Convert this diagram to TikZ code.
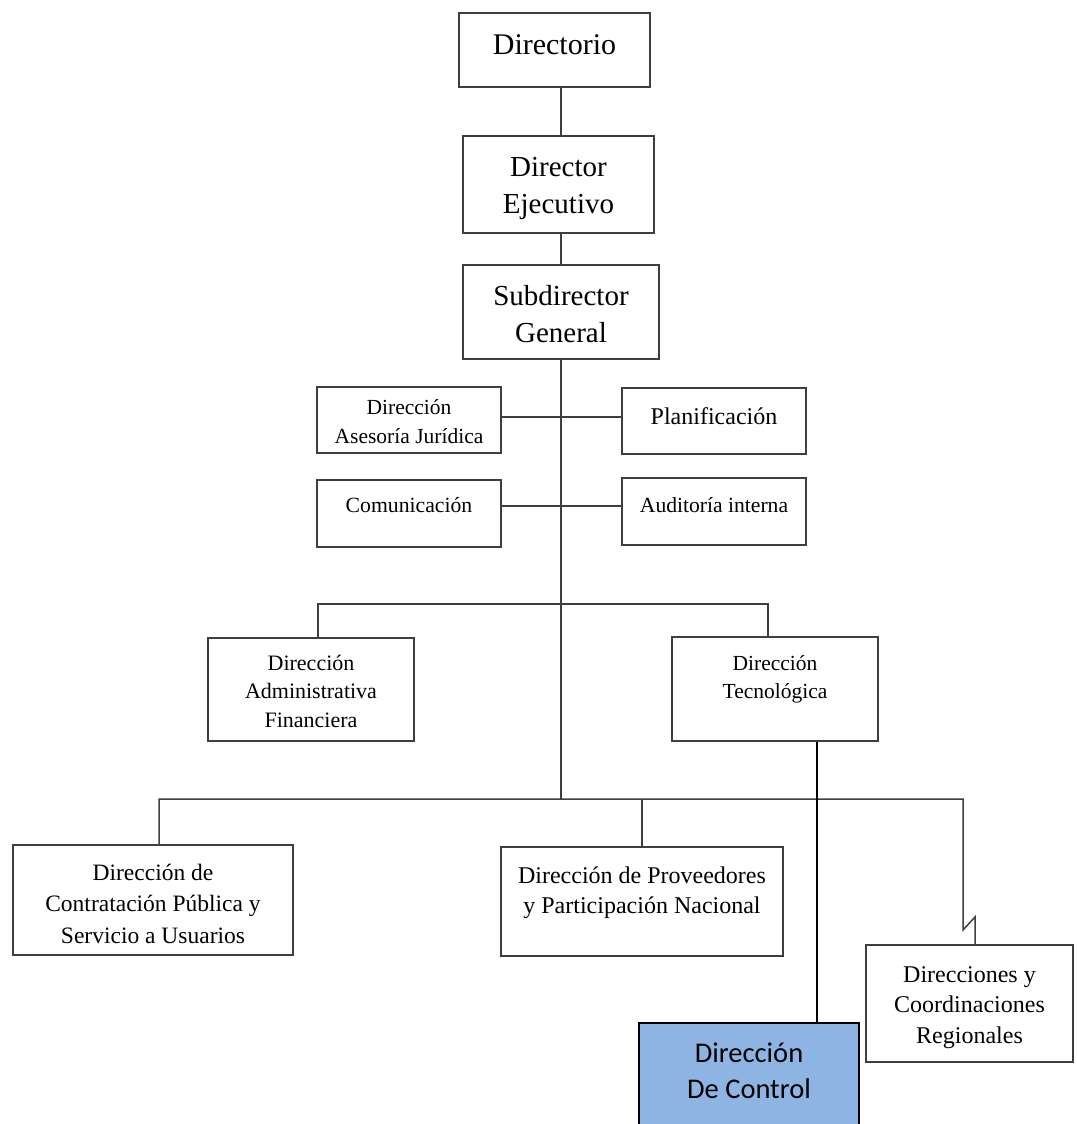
\documentclass[tikz,border=0pt]{standalone}
\usepackage{fontspec}
\setmainfont{Liberation Serif}
\newfontfamily\calibrifont{Carlito}
\usetikzlibrary{positioning}
\definecolor{controlblue}{RGB}{142,180,227}
\definecolor{linegray}{RGB}{62,62,62}

\begin{document}
\begin{tikzpicture}[x=1pt, y=-1pt,
        unit/.style={draw=linegray, line width=1.5pt, fill=white, align=center, inner sep=0pt},
        link/.style={draw=linegray, line width=1.5pt},
        ctlline/.style={draw=black, line width=2.6pt}]
        \useasboundingbox (0,0) rectangle (1076,1124);
        \clip (0,0) rectangle (1076,1124);

        % Top levels
        \node [unit, font=\fontsize{30}{36}\selectfont, minimum width=191pt, minimum height=74pt, text height=10pt, text depth=0pt] (dir) at (554.5,50) {Directorio};
        \node [unit, font=\fontsize{29}{37}\selectfont, minimum width=191pt, minimum height=97pt, text height=57pt, text depth=0pt] (exec) at (558.5,184.5) {Director\\Ejecutivo};
        \node [unit, font=\fontsize{29}{37}\selectfont, minimum width=196pt, minimum height=94pt, text height=60pt, text depth=0pt] (sub) at (561,312) {Subdirector\\General};

        % Staff units
        \node [unit, font=\fontsize{21.5}{29}\selectfont, minimum width=184pt, minimum height=66pt, text height=46pt, text depth=0pt] (jur) at (409,420) {Dirección\\Asesoría Jurídica};
        \node [unit, font=\fontsize{24}{30}\selectfont, minimum width=184pt, minimum height=66pt, text height=6pt, text depth=0pt] (plan) at (714,421) {Planificación};
        \node [unit, font=\fontsize{21.7}{28}\selectfont, minimum width=184pt, minimum height=67pt, text height=0pt, text depth=3pt] (com) at (409,513.5) {Comunicación};
        \node [unit, font=\fontsize{21.6}{28}\selectfont, minimum width=184pt, minimum height=67pt, text height=1pt, text depth=0pt] (aud) at (714,511.5) {Auditoría interna};

        % Support directions
        \node [unit, font=\fontsize{22}{28.5}\selectfont, minimum width=206pt, minimum height=103pt, text height=75pt, text depth=0pt] (adm) at (311,689.5) {Dirección\\Administrativa\\Financiera};
        \node [unit, font=\fontsize{21.5}{28}\selectfont, minimum width=206pt, minimum height=104pt, text height=18pt, text depth=0pt] (tec) at (775,689) {Dirección\\Tecnológica};

        % Operative directions
        \node [unit, font=\fontsize{23.5}{31.5}\selectfont, minimum width=280pt, minimum height=110pt, text height=86pt, text depth=0pt] (con) at (153,900) {Dirección de\\Contratación Pública y\\Servicio a Usuarios};
        \node [unit, font=\fontsize{24}{30}\selectfont, minimum width=282pt, minimum height=109pt, text height=23pt, text depth=0pt] (pro) at (642,901.5) {Dirección de Proveedores\\y Participación Nacional};
        \node [unit, font=\fontsize{24}{30.5}\selectfont, minimum width=207pt, minimum height=117pt, text height=79pt, text depth=0pt] (reg) at (969.5,1003.5) {Direcciones y\\Coordinaciones\\Regionales};

        % New unit
        \node [draw=black, line width=2pt, fill=controlblue, align=center, inner sep=0pt, font=\calibrifont\fontsize{28.5}{36}\selectfont, minimum width=220pt, minimum height=137pt, text height=13pt, text depth=0pt] (ctl) at (749,1091.5) {Dirección\\De Control};

        % Trunk
        \coordinate (barup) at (561,604);
        \coordinate (barlow) at (561,799);
        \draw [link] (dir.south -| sub) -- (exec.north -| sub);
        \draw [link] (exec.south -| sub) -- (sub.north);
        \draw [link] (sub.south) -- (barlow);

        % Staff links
        \draw [link] ([yshift=3pt]jur.east) -- ([yshift=3pt]jur.east -| plan.west);
        \draw [link] ([yshift=7.5pt]com.east) -- ([yshift=7.5pt]com.east -| aud.west);

        % Branches
        \draw [link] ([xshift=7pt]adm.north) |- (barup) -| ([xshift=-7pt]tec.north);
        \coordinate (zig) at (963,930);
        \draw [link] ([xshift=6pt]con.north) |- (barlow) -| (zig) -- ++(12,-13) -- ([xshift=5.5pt]reg.north);
        \draw [link] (pro.north) -- (pro.north |- barlow);

        % Control link
        \coordinate (tecout) at ([xshift=42pt]tec.south);
        \draw [ctlline] (tecout) -- (tecout |- ctl.north);
    \end{tikzpicture}
\end{document}
